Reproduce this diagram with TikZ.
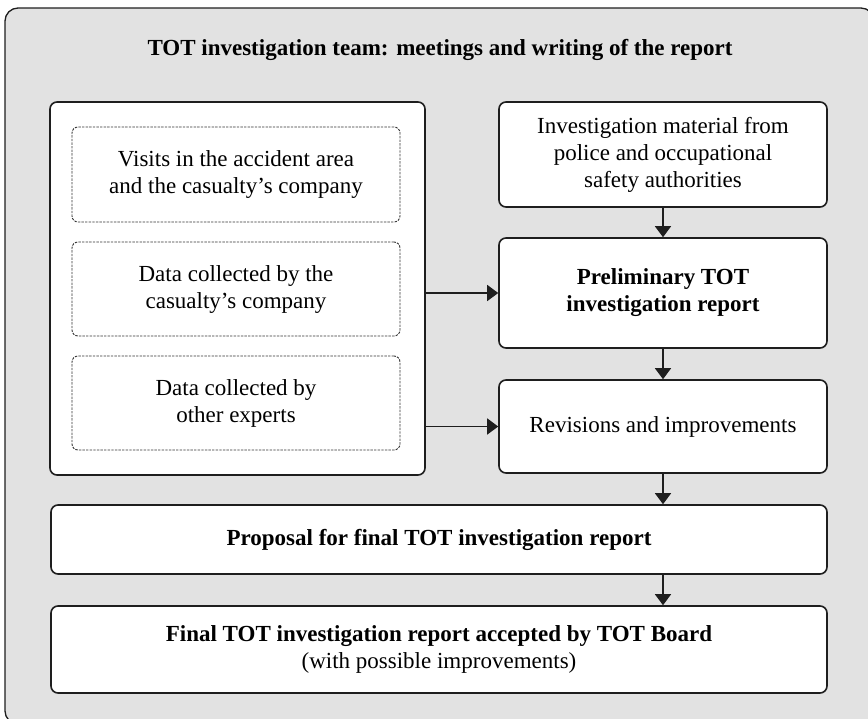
\documentclass[tikz,border=0pt]{standalone}
\usepackage{fontspec}
\setmainfont{Liberation Serif}
\usepackage{xcolor}
\usepackage{tikz}
\usetikzlibrary{positioning, arrows.meta, calc}

\begin{document}
\begin{tikzpicture}[x=1pt, y=-1pt, font=\fontsize{23}{27}\selectfont]

\definecolor{totPanel}{HTML}{E2E2E2}
\definecolor{totLine}{HTML}{1E1E1E}

\tikzset{
  stepbox/.style={draw=totLine, line width=1.6pt, fill=white, rounded corners=7pt,
    align=center, inner sep=0pt},
  srcbox/.style={draw=totLine!90, line width=0.9pt, dash pattern=on 2.4pt off 1.2pt,
    fill=white, rounded corners=6pt, align=center, inner sep=0pt,
    minimum width=328pt, minimum height=94pt},
  flow/.style={draw=totLine, line width=1.6pt, -{Triangle[length=11pt, width=16pt]}}
}

\useasboundingbox (0,0) rectangle (868,718);

% outer panel (runs past the right and bottom edge)
\draw[totLine, line width=1.3pt, fill=totPanel, rounded corners=13pt] (5,8) rectangle (874,724);
\node[font=\fontsize{23}{27}\selectfont\bfseries] (title) at (440,50)
  {TOT investigation team: meetings and writing of the report};

% ===== left column: sources =====
\node[stepbox, minimum width=375pt, minimum height=373pt] (sources) at (237.5,288.5) {};
\node[srcbox, minimum height=95pt] (visits) at (236,174.5)
  {Visits in the accident area\\and the casualty's company};
\node[srcbox] (company) at (236,289) {Data collected by the\\casualty's company};
\node[srcbox] (experts) at (236,403) {Data collected by\\other experts};

% ===== right column =====
\node[stepbox, minimum width=328pt, minimum height=105pt] (material) at (663,154.5)
  {Investigation material from\\police and occupational\\safety authorities};
\node[stepbox, minimum width=328pt, minimum height=110pt, font=\fontsize{23}{27}\selectfont\bfseries]
  (prelim) at (663,293) {Preliminary TOT\\investigation report};
\node[stepbox, minimum width=328pt, minimum height=93pt] (revisions) at (663,426.5)
  {Revisions and improvements};

% ===== bottom rows =====
\node[stepbox, minimum width=776pt, minimum height=69pt, font=\fontsize{23}{27}\selectfont\bfseries]
  (proposal) at (439,539.5) {Proposal for final TOT investigation report};
\node[stepbox, minimum width=776pt, minimum height=87pt] (final) at (439,649.5)
  {\textbf{Final TOT investigation report accepted by TOT Board}\\(with possible improvements)};

% arrows
\draw[flow] (material) -- (prelim);
\draw[flow] (prelim) -- (revisions);
\draw[flow] (revisions.south) -- (revisions.south |- proposal.north);
\draw[flow] (revisions.south |- proposal.south) -- (revisions.south |- final.north);
\draw[flow] (sources.east |- prelim) -- (prelim.west);
\draw[flow] (sources.east |- revisions) -- (revisions.west);

\end{tikzpicture}
\end{document}
